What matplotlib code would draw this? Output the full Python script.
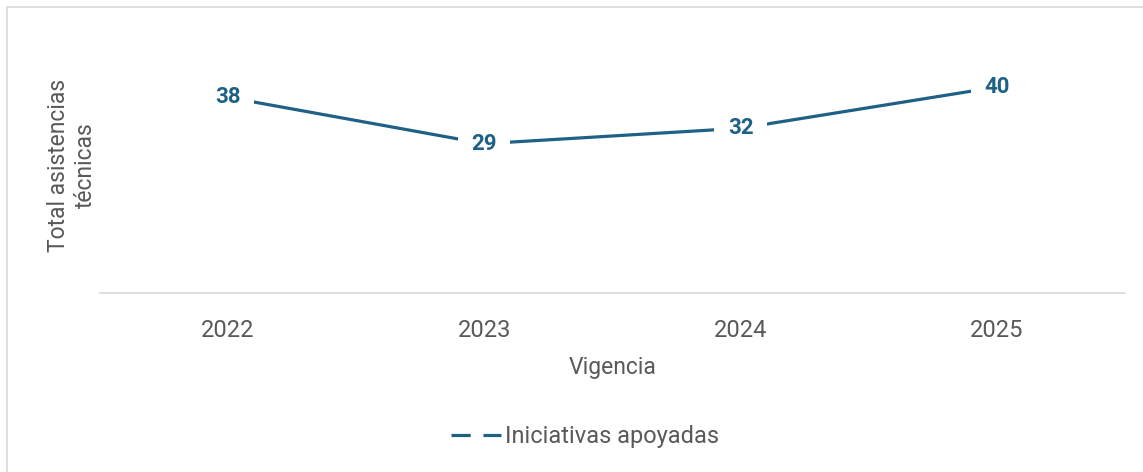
import matplotlib.pyplot as plt
from matplotlib.lines import Line2D
from matplotlib.patches import Rectangle

# data
years = ['2022', '2023', '2024', '2025']
iniciativas = [38, 29, 32, 40]

line_color = '#1f6185'
text_gray = '#595959'

plt.rcParams['font.family'] = ['Roboto', 'DejaVu Sans']

fig = plt.figure(figsize=(11.43, 4.72), dpi=100)
ax = fig.add_axes([100 / 1143, 1 - 293 / 472, 1025 / 1143, 260 / 472])

x = range(len(years))
ax.plot(x, iniciativas, color=line_color, lw=2.3, solid_capstyle='butt', zorder=2)

# data labels centred on the points, white box hides the line underneath
for xi, v in zip(x, iniciativas):
    ax.text(xi, v, str(v), ha='center', va='center', fontsize=16,
            fontweight='bold', color=line_color, zorder=3,
            bbox=dict(boxstyle='square,pad=0.6', fc='white', ec='none'))

ax.set_xlim(-0.5, len(years) - 0.5)
ax.set_ylim(0, 50.5)
ax.set_xticks(list(x))
ax.set_xticklabels(years)
ax.set_yticks([])
ax.tick_params(axis='x', length=0, pad=19, labelsize=17, labelcolor=text_gray)
for s in ['top', 'right', 'left']:
    ax.spines[s].set_visible(False)
ax.spines['bottom'].set_color('#d9d9d9')
ax.spines['bottom'].set_linewidth(1.2)
ax.set_xlabel('Vigencia', fontsize=16.5, color=text_gray, labelpad=10)

fig.text(72 / 1143, 1 - 165 / 472, 'Total asistencias\ntécnicas', rotation=90,
         ha='center', va='center', fontsize=16.5, color=text_gray,
         linespacing=1.25)

handle = Line2D([], [], color=line_color, lw=2.3, ls=(0, (6, 4)))
fig.legend([handle], ['Iniciativas apoyadas'], loc='center',
           bbox_to_anchor=(585 / 1143, 1 - 437 / 472), frameon=False,
           fontsize=17, labelcolor=text_gray, handlelength=2.1,
           handletextpad=0.15)

# light border around the chart area
fig.patches.append(Rectangle((6.5 / 1143, -0.1), 1.2, 1.1 - 7.5 / 472,
                             transform=fig.transFigure, fill=False,
                             ec='#d9d9d9', lw=1.2))

fig.savefig('out.png', dpi=100)
